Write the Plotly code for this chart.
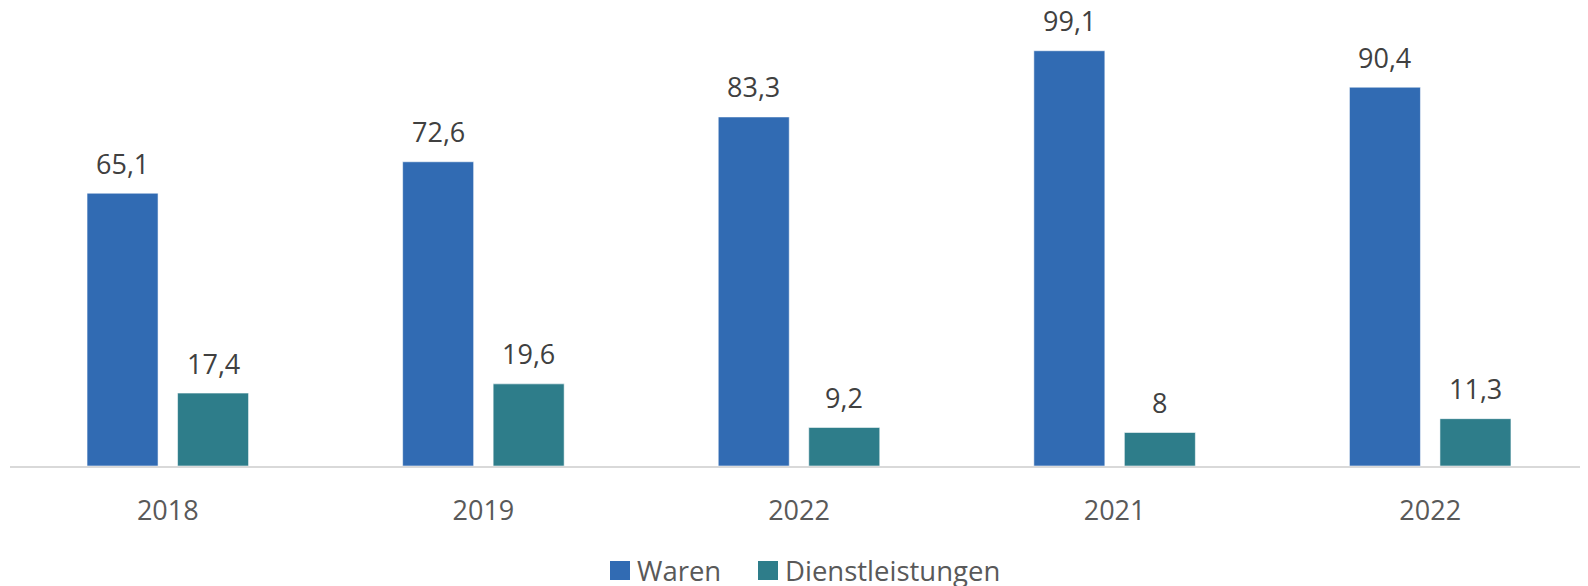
import plotly.graph_objects as go

categories = ["2018", "2019", "2022", "2021", "2022"]
waren = [65.1, 72.6, 83.3, 99.1, 90.4]
dienst = [17.4, 19.6, 9.2, 8, 11.3]
series_names = ["Waren", "Dienstleistungen"]
colors = ["#316BB3", "#2E7D8A"]

FONT = "Open Sans"
pos = list(range(len(categories)))
half = 0.1434
bw = 0.225

def fmt(v):
    return ("%g" % v).replace(".", ",")

fig = go.Figure()
for vals, name, col, sgn in [(waren, series_names[0], colors[0], -1), (dienst, series_names[1], colors[1], 1)]:
    fig.add_trace(go.Bar(
        x=pos, y=vals, name=name, width=bw, offset=sgn * half - bw / 2,
        marker=dict(color=col, line=dict(color="rgba(255,255,255,0.55)", width=1)),
        showlegend=False, hoverinfo="skip"))
    for p, v in zip(pos, vals):
        fig.add_annotation(x=p + sgn * half, y=v, text=fmt(v), showarrow=False,
                           yanchor="middle", yshift=30,
                           font=dict(family=FONT, size=27, color="#404040"))

# manual legend (paper coordinates)
PW = 1578.0
PH = 458.0
def px(wx):
    return (wx - 10) / PW
def py(wy):
    return (466 - wy) / PH

legend_items = [(series_names[0], colors[0], 610, 630, 635),
                (series_names[1], colors[1], 758, 778, 783)]
for name, col, sx0, sx1, tx in legend_items:
    fig.add_shape(type="rect", xref="paper", yref="paper",
                  x0=px(sx0), x1=px(sx1), y0=py(580), y1=py(561),
                  fillcolor=col, line=dict(width=0))
    fig.add_annotation(xref="paper", yref="paper", x=px(tx), y=py(570.5),
                       xanchor="left", yanchor="middle", text=name, showarrow=False,
                       font=dict(family=FONT, size=27.5, color="#595959"))

fig.update_layout(
    width=1588, height=586,
    margin=dict(l=2, r=8, t=0, b=128),
    paper_bgcolor="white", plot_bgcolor="white",
    font=dict(family=FONT, size=27, color="#595959"),
    showlegend=False,
    xaxis=dict(range=[-0.5, 4.5], tickvals=pos, ticktext=categories,
               showline=True, linecolor="#D9D9D9", linewidth=1.5,
               showgrid=False, zeroline=False, ticks="", ticklabelstandoff=20,
               tickfont=dict(family=FONT, size=27, color="#595959")),
    yaxis=dict(range=[0, 109.3], visible=False, showgrid=False, zeroline=False),
)

fig.write_html("out.html")
